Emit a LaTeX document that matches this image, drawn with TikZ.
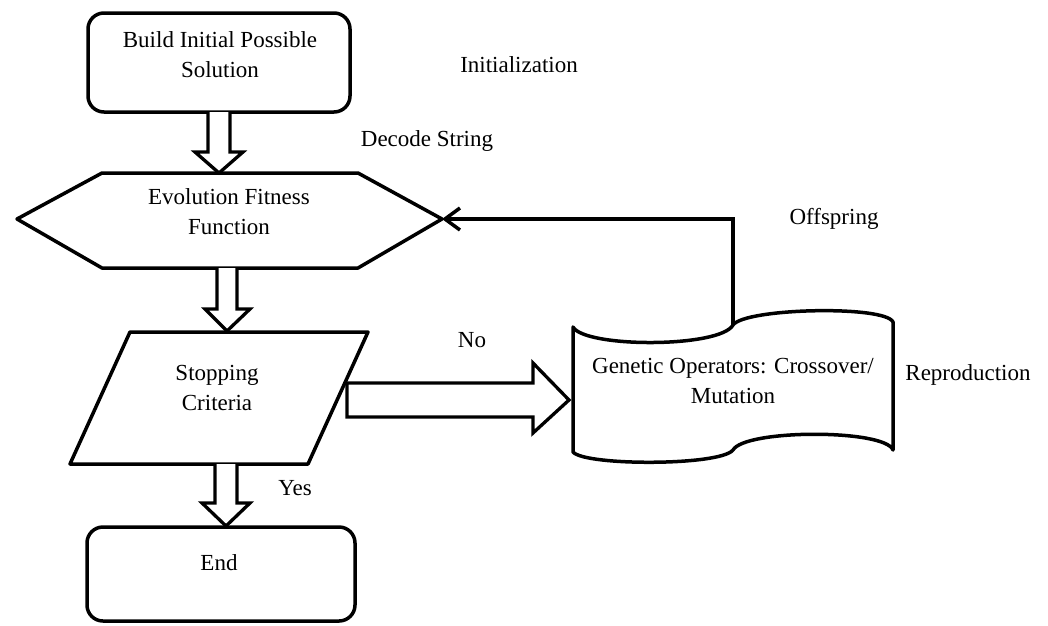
\documentclass[tikz,border=0pt]{standalone}
\usepackage{fontspec}
\setmainfont{Liberation Serif}
\usetikzlibrary{arrows.meta}
\begin{document}
\begin{tikzpicture}[x=1pt,y=-1pt,
  outline/.style={line width=3.5pt, line join=round},
  blockarrow/.style={line width=3.3pt, fill=white, line join=miter},
  txt/.style={font=\fontsize{23}{30}\selectfont, align=center, inner sep=0pt},
  connector/.style={line width=3.5pt, -{Straight Barb[length=15pt,width=22pt,line width=3.5pt]}},
]
\useasboundingbox[fill=white] (0,0) rectangle (1048,625);

% shapes
\draw[outline, rounded corners=16pt] (88,13) rectangle (350,112);
\draw[outline] (17,219) coordinate (hexW) -- (102,173) -- (358,173) -- (442,219) coordinate (hexE) -- (358,268) -- (102,268) -- cycle;
\draw[outline] (130,332) -- (368,332) -- (308,464) -- (70,464) -- cycle;
\draw[outline, rounded corners=16pt] (87,527) rectangle (355,621);
\draw[outline] (573,327) .. controls (585,348) and (720,348) .. (733,325) coordinate (docTop)
  .. controls (745,308) and (885,305) .. (893,322) -- (893,450)
  .. controls (885,429) and (745,429) .. (733,450)
  .. controls (720,466) and (585,466) .. (573,452) -- cycle;

% texts in shapes
\node[txt] (build) at (220,55) {Build Initial Possible\\Solution};
\node[txt] (eval) at (229,212) {Evolution Fitness\\Function};
\node[txt] (stop) at (217,388) {Stopping\\Criteria};
\node[txt] (gen) at (733,381) {Genetic Operators: Crossover/\\Mutation};
\node[txt] (end) at (219,563) {End};

% block arrows
\draw[blockarrow] (208,112) -- (208,152) -- (195,152) -- (219,173) -- (243,152) -- (230,152) -- (230,112);
\draw[blockarrow] (217,268) -- (217,309) -- (205,309) -- (227,331) -- (250,309) -- (237,309) -- (237,268);
\draw[blockarrow] (215,464) -- (215,503) -- (202,503) -- (226,526) -- (250,503) -- (237,503) -- (237,464);
\draw[blockarrow] (347,383) -- (533,383) -- (533,363) -- (569,400) -- (533,433) -- (533,417) -- (347,417) -- cycle;

% feedback connector
\draw[connector] (docTop) |- (hexE);

% labels
\node[txt] (init) at (519,65) {Initialization};
\node[txt] (decode) at (427,141) {Decode String};
\node[txt] (off) at (834,219) {Offspring};
\node[txt] (no) at (472,340) {No};
\node[txt] (repro) at (968,375) {Reproduction};
\node[txt] (yes) at (295,488) {Yes};
\end{tikzpicture}
\end{document}
